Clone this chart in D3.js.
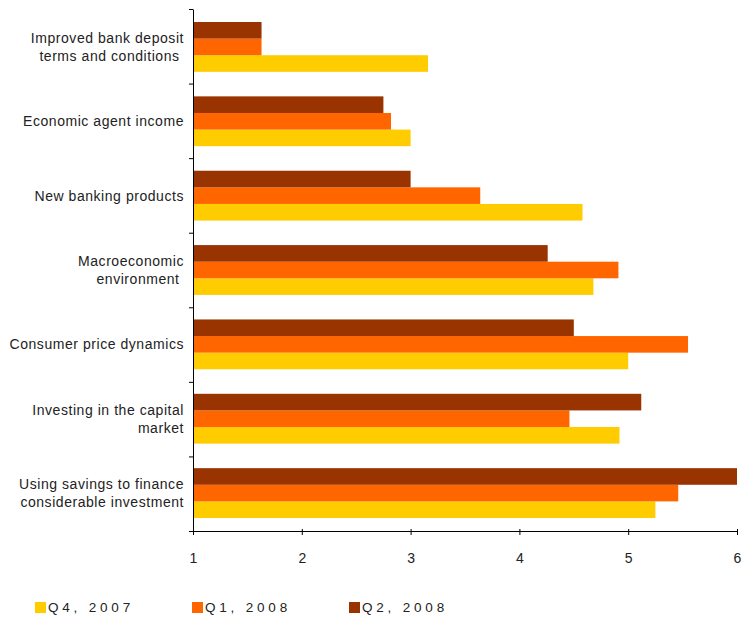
<!DOCTYPE html>
<html>
<head>
<meta charset="utf-8">
<script src="https://cdn.jsdelivr.net/npm/d3@7"></script>
<style>
  html, body { margin: 0; padding: 0; background: #fff; }
  svg { display: block; font-family: "Liberation Sans", Arial, sans-serif; }
  text { white-space: pre; }
</style>
</head>
<body>
<svg id="chart" width="754" height="619"></svg>
<script>
// Factors affecting household savings (scores 1–6)
const categories = [
  "Improved bank deposit\nterms and conditions\u00a0",
  "Economic agent income",
  "New banking products",
  "Macroeconomic\nenvironment\u00a0",
  "Consumer price dynamics",
  "Investing in the capital\nmarket",
  "Using savings to finance\nconsiderable investment"
];
const seriesNames = ["Q4, 2007", "Q1, 2008", "Q2, 2008"];
const q4_2007 = [3.16, 3.00, 4.58, 4.68, 5.00, 4.92, 5.25];
const q1_2008 = [1.63, 2.82, 3.64, 4.91, 5.55, 4.46, 5.46];
const q2_2008 = [1.63, 2.75, 3.00, 4.26, 4.50, 5.12, 6.00];
const xTicks = [1, 2, 3, 4, 5, 6];
const colors = ["#FFCC00", "#FF6600", "#993300"];

const seriesValues = [q4_2007, q1_2008, q2_2008];
const rows = categories.map((c, i) => ({
  cat: c,
  vals: seriesNames.map((s, k) => ({ series: s, value: seriesValues[k][i], color: colors[k] }))
}));

const svg = d3.select("#chart");
const plotLeft = 193, plotRight = 737, plotTop = 9, plotBottom = 531;

const x = d3.scaleLinear().domain([1, 6]).range([plotLeft, plotRight]);
const y = d3.scaleBand().domain(categories).range([plotTop, plotBottom])
  .paddingInner(0.33).paddingOuter(0.175);
// within a group the latest quarter is drawn on top
const inner = d3.scaleBand().domain(seriesNames.slice().reverse()).range([0, y.bandwidth()]);

// bars
const groups = svg.append("g").selectAll("g").data(rows).join("g")
  .attr("transform", d => `translate(0,${y(d.cat)})`);
groups.selectAll("rect").data(d => d.vals).join("rect")
  .attr("x", x(1))
  .attr("y", d => inner(d.series))
  .attr("width", d => x(d.value) - x(1))
  .attr("height", inner.bandwidth())
  .attr("fill", d => d.color);

// y axis: boundaries between categories
const yIdx = d3.scaleLinear().domain([0, categories.length]).range([plotTop, plotBottom]);
const yAxis = svg.append("g").attr("transform", `translate(${plotLeft},0)`)
  .call(d3.axisLeft(yIdx).tickValues(d3.range(categories.length + 1)).tickSize(4).tickSizeOuter(0).tickFormat(""));
yAxis.select(".domain").attr("stroke", "#000");
yAxis.selectAll(".tick line").attr("stroke", "#000");

// x axis
const xAxis = svg.append("g").attr("transform", `translate(0,${plotBottom})`)
  .call(d3.axisBottom(x).tickValues(xTicks).tickSize(4).tickSizeOuter(0).tickPadding(18).tickFormat(d3.format("d")));
xAxis.select(".domain").attr("stroke", "#000");
xAxis.selectAll(".tick line").attr("stroke", "#000").attr("y1", -2);
xAxis.selectAll(".tick text").attr("font-size", 14).attr("fill", "#222")
  .attr("font-family", "'Liberation Sans', Arial, sans-serif");

// category labels
const lineH = 18;
svg.append("g").selectAll("text").data(categories).join("text")
  .attr("text-anchor", "end")
  .attr("font-size", 14)
  .attr("letter-spacing", 0.55)
  .attr("fill", "#222")
  .each(function(d) {
    const lines = d.split("\n");
    const cy = y(d) + y.bandwidth() / 2;
    const t = d3.select(this);
    lines.forEach((ln, i) => {
      t.append("tspan")
        .attr("x", 184)
        .attr("y", cy + (i - (lines.length - 1) / 2) * lineH)
        .attr("dy", "0.35em")
        .text(ln);
    });
  });

// legend
const legendX = [35, 192, 349];
const legend = svg.append("g").selectAll("g").data(seriesNames).join("g")
  .attr("transform", (d, i) => `translate(${legendX[i]},602)`);
legend.append("rect").attr("width", 11).attr("height", 11)
  .attr("fill", (d, i) => colors[i]);
legend.append("text").attr("x", 13).attr("y", 5.5).attr("dy", "0.35em")
  .attr("font-size", 13.5).attr("letter-spacing", 3.8).attr("fill", "#222")
  .text(d => d);
</script>
</body>
</html>
